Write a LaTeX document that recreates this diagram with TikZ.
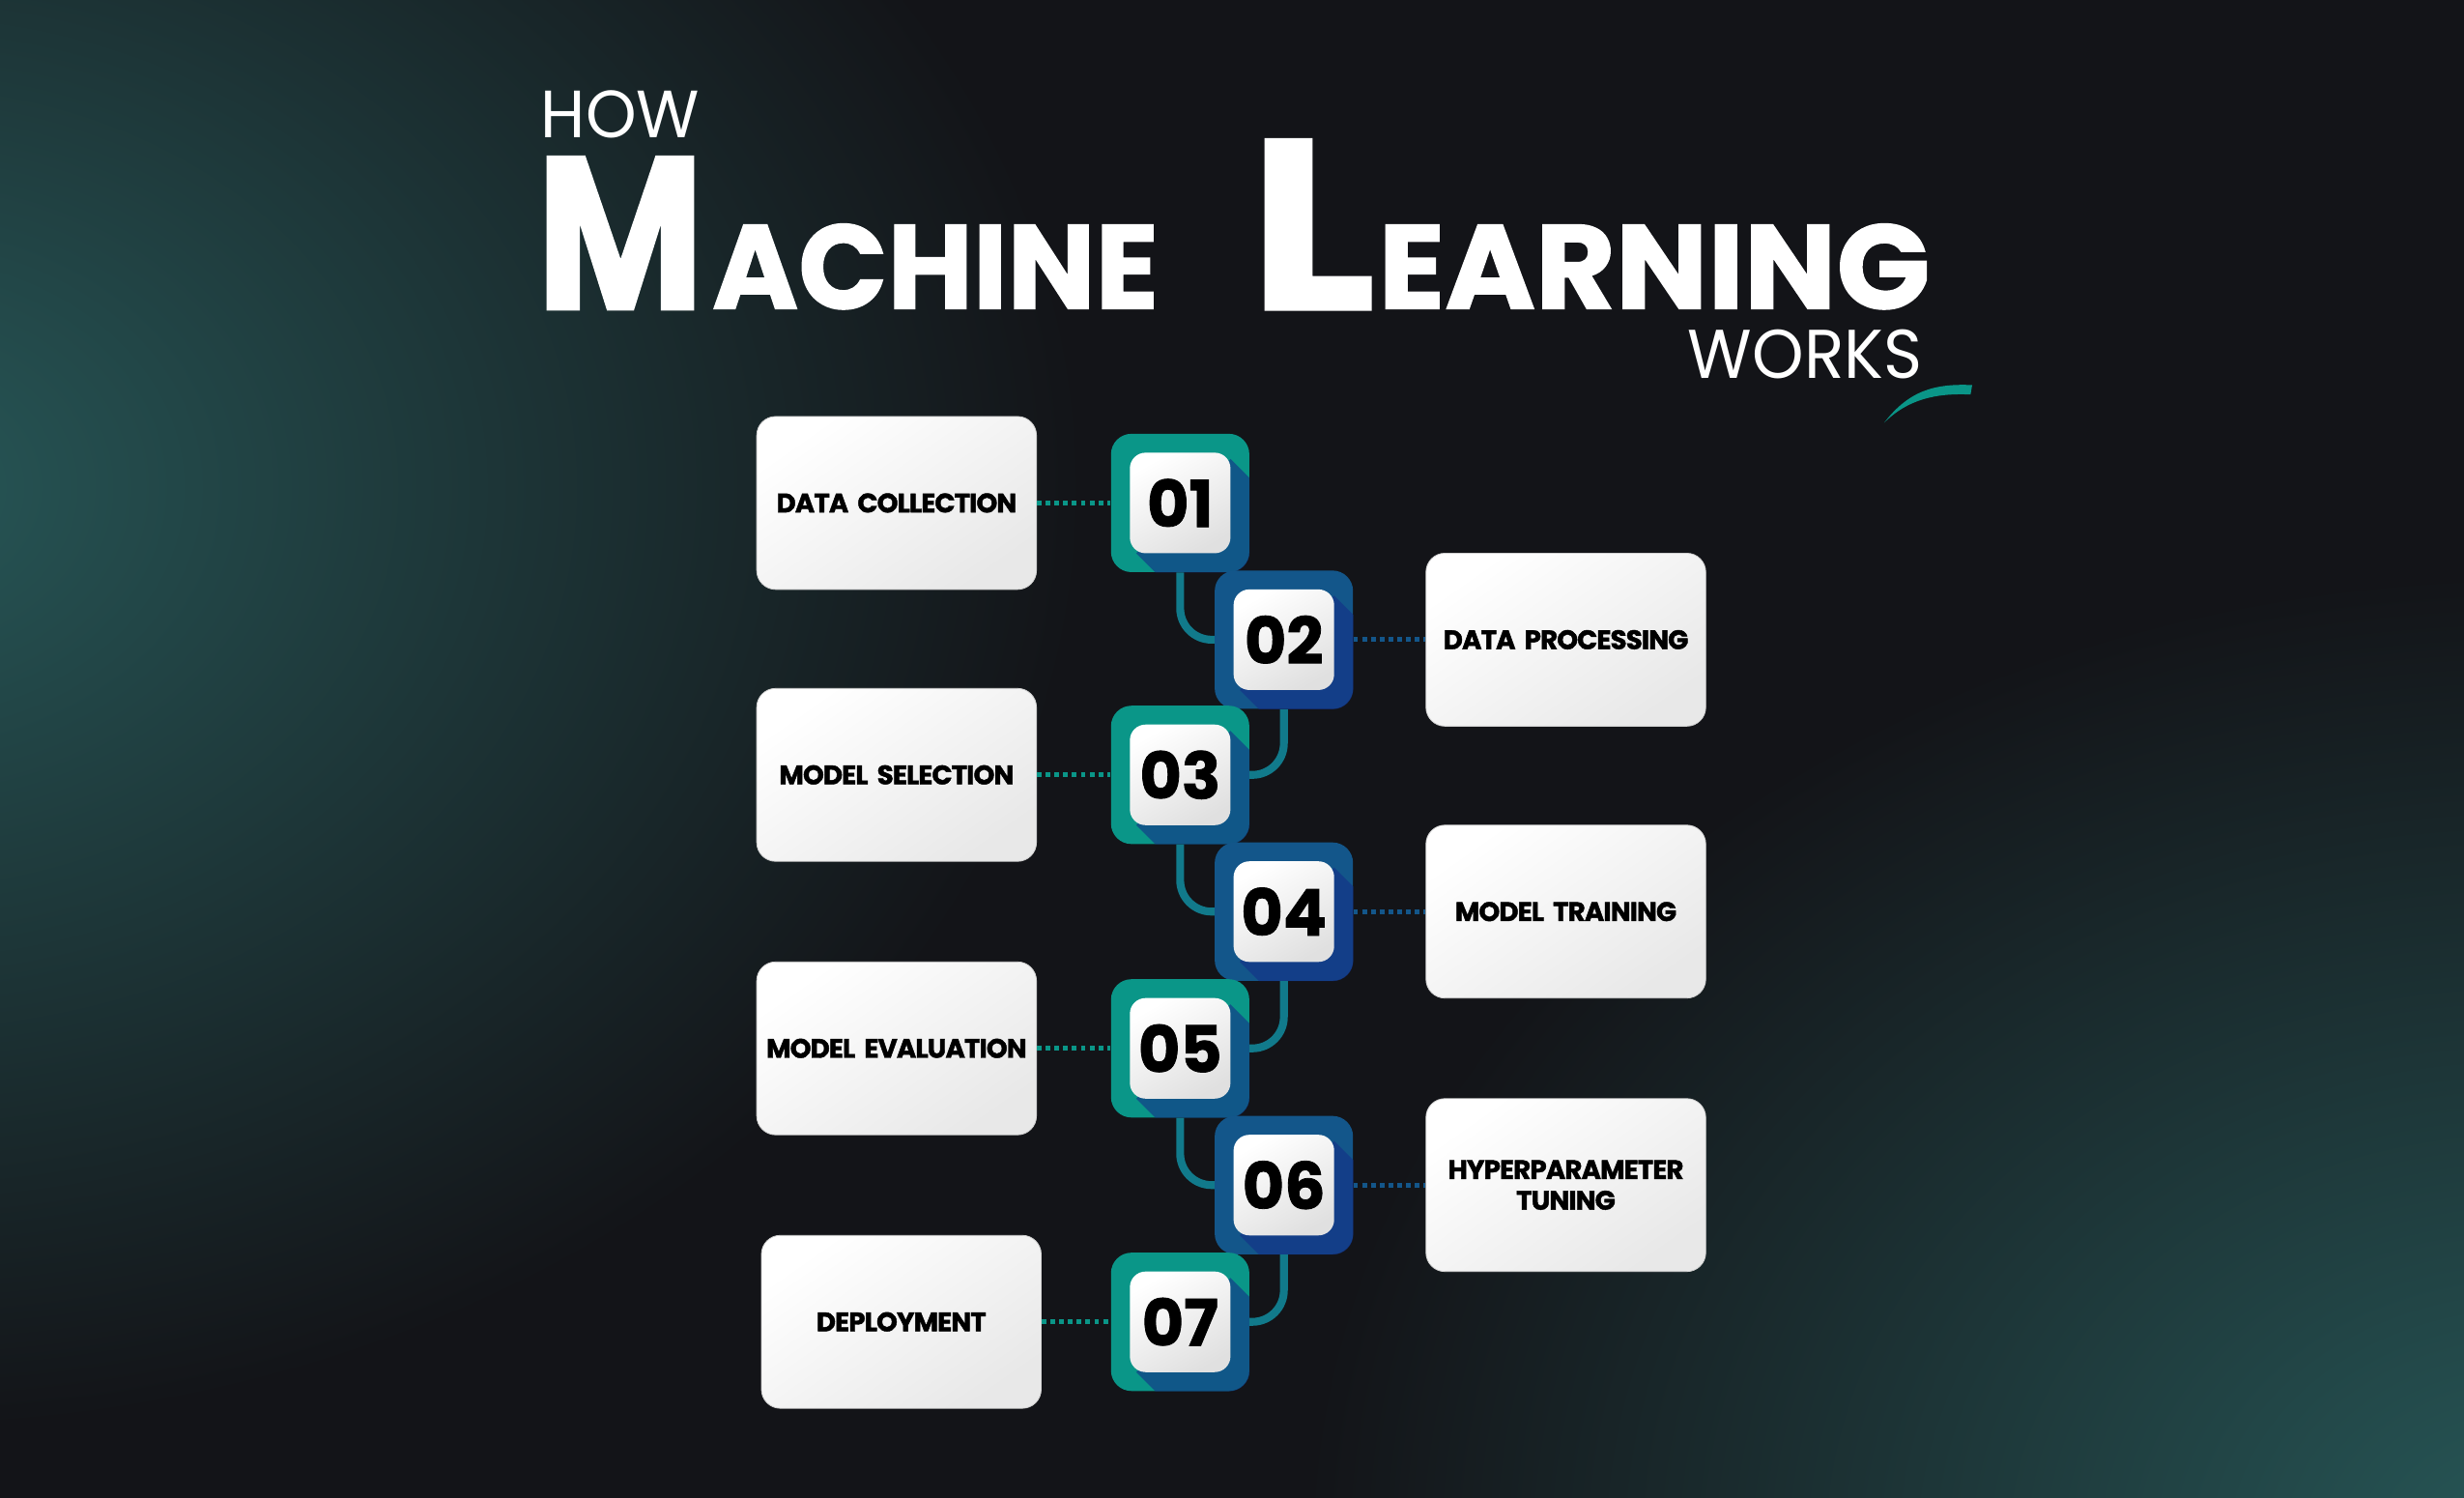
\documentclass[tikz,border=0pt]{standalone}
\usepackage{fontspec}
\setmainfont{Poppins}[BoldFeatures={FakeBold=1.2}]
\newfontfamily\boxfont{Poppins}[LetterSpace=-3, BoldFeatures={FakeBold=1.6}]
\newcommand{\boxtext}{\boxfont\bfseries\fontsize{17}{19.5}\selectfont\spaceskip=3.2pt plus 1pt\relax}
\usetikzlibrary{positioning,calc}

\definecolor{bgc}{HTML}{131418}
\definecolor{glowc}{HTML}{275757}
\definecolor{tealc}{HTML}{0A9688}
\definecolor{bluec}{HTML}{13568A}
\definecolor{navyc}{HTML}{142E88}
\definecolor{linkc}{HTML}{117A8B}

\tikzset{
  stepbox/.style={rectangle, rounded corners=12pt, minimum width=178pt, minimum height=110pt,
    text width=176pt, align=center, inner sep=0pt, draw=black!18, line width=0.5pt,
    top color=white, bottom color=black!9, shading angle=35, font=\boxtext},
  numbox/.style={rectangle, rounded corners=13pt, minimum size=88pt, inner sep=0pt},
  numcard/.style={rectangle, rounded corners=10pt, minimum size=64pt, inner sep=0pt,
    top color=white, bottom color=black!12, shading angle=30,
    font=\bfseries\fontsize{41}{41}\selectfont},
  link/.style={linkc, line width=5pt, rounded corners=20pt},
  tealdots/.style={tealc, line width=3pt, dash pattern=on 3pt off 2.6pt},
  bluedots/.style={bluec, line width=3pt, dash pattern=on 3pt off 2.6pt},
  title/.style={white, inner sep=0pt, anchor=south west}
}

% numbered square: name, position, colour, number
\newcommand{\stepnum}[4]{%
  \node[numbox, fill=#3] (#1) at (#2) {};
  \begin{scope}
    \clip[rounded corners=13pt] (#1.north west) rectangle (#1.south east);
    \fill[navyc, fill opacity=0.6] ($(#1.center)+(32,-28)$) -- ++(70,70) -- ++(-60,60) -- ++(-70,-70) -- cycle;
  \end{scope}
  \node[numcard] (#1c) at (#1.center) {#4};
}

\begin{document}
\begin{tikzpicture}[x=1pt, y=-1pt]
    \useasboundingbox (0,0) rectangle (1568,953);
    % background
    \fill[bgc] (0,0) rectangle (1568,953);
    \begin{scope}
        \clip (0,0) rectangle (1568,953);
        \shade[inner color=glowc, outer color=bgc] (-70,310) ellipse (760 and 600);
        \shade[inner color=glowc, outer color=bgc] (1610,985) ellipse (780 and 620);
    \end{scope}

    % title
    \node[title] (how) at (344,88) {\resizebox{101pt}{30pt}{HOW}};
    \node[title] (tm) at (341,197) {\resizebox{107pt}{97pt}{\bfseries M}};
    \node[title] (tachine) at (453,197) {\resizebox{284pt}{54pt}{\bfseries ACHINE}};
    \node[title] (tl) at (795,197) {\resizebox{80pt}{108pt}{\bfseries L}};
    \node[title] (tearning) at (877,197) {\resizebox{351pt}{54pt}{\bfseries EARNING}};
    \node[title] (works) at (1074,241) {\resizebox{149pt}{31pt}{WORKS}};
    \fill[tealc] (1199,269) .. controls (1215,248) and (1232,244) .. (1255,245)
        -- (1254,251) .. controls (1232,250) and (1214,254) .. cycle;

    % numbered steps
    \stepnum{o1}{751,320}{tealc}{01}
    \stepnum{o2}{817,407}{bluec}{02}
    \stepnum{o3}{751,493}{tealc}{03}
    \stepnum{o4}{817,580}{bluec}{04}
    \stepnum{o5}{751,667}{tealc}{05}
    \stepnum{o6}{817,754}{bluec}{06}
    \stepnum{o7}{751,841}{tealc}{07}

    \node[stepbox, left=47pt of o1] (b1) {DATA COLLECTION};
    \node[stepbox, right=46pt of o2] (b2) {DATA PROCESSING};
    \node[stepbox, left=47pt of o3] (b3) {MODEL SELECTION};
    \node[stepbox, right=46pt of o4] (b4) {MODEL TRAINING};
    \node[stepbox, left=47pt of o5] (b5) {MODEL EVALUATION};
    \node[stepbox, right=46pt of o6] (b6) {HYPERPARAMETER\\TUNING};
    \node[stepbox, left=44pt of o7] (b7) {DEPLOYMENT};

    \draw[tealdots] (b1.east) -- (o1.west);
    \draw[bluedots] (o2.east) -- (b2.west);
    \draw[tealdots] (b3.east) -- (o3.west);
    \draw[bluedots] (o4.east) -- (b4.west);
    \draw[tealdots] (b5.east) -- (o5.west);
    \draw[bluedots] (o6.east) -- (b6.west);
    \draw[tealdots] (b7.east) -- (o7.west);

    \draw[link] (o1.south) |- (o2.west);
    \draw[link] (o2.south) |- (o3.east);
    \draw[link] (o3.south) |- (o4.west);
    \draw[link] (o4.south) |- (o5.east);
    \draw[link] (o5.south) |- (o6.west);
    \draw[link] (o6.south) |- (o7.east);
\end{tikzpicture}
\end{document}
